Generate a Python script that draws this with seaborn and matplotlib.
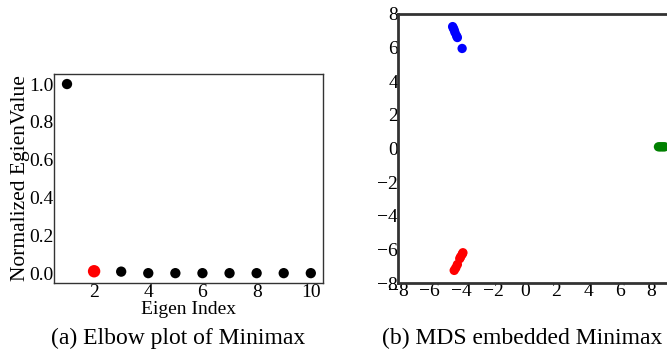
import numpy as np
import pandas as pd
import matplotlib
matplotlib.use("Agg")
import matplotlib.pyplot as plt
import seaborn as sns

# ==================== ДАННЫЕ ====================
eigen_index = [1, 2, 3, 4, 5, 6, 7, 8, 9, 10]
eigen_value = [1.0, 0.012, 0.010, 0.002, 0.002, 0.002, 0.002, 0.002, 0.002, 0.002]
eigen_color = ["black", "red", "black", "black", "black", "black", "black", "black", "black", "black"]

blue_x = [-4.55, -4.5, -4.45, -4.4, -4.3, -4.25, -3.95]
blue_y = [7.25, 7.15, 7.05, 6.9, 6.7, 6.6, 5.95]
red_x = [-3.9, -3.95, -4.05, -4.1, -4.25, -4.35, -4.45]
red_y = [-6.2, -6.3, -6.45, -6.55, -6.9, -7.1, -7.25]
green_x = [8.45, 8.55, 8.65, 8.75, 8.85]
green_y = [0.1, 0.1, 0.1, 0.1, 0.1]

# ==================== СТИЛЬ ====================
sns.set_style("white")
plt.rcParams["font.family"] = ["Liberation Serif", "DejaVu Serif"]
plt.rcParams["text.color"] = "black"
plt.rcParams["xtick.color"] = "black"
plt.rcParams["ytick.color"] = "black"
plt.rcParams["axes.labelcolor"] = "black"

fig = plt.figure(figsize=(6.67, 3.52), dpi=100)
W, H = 667, 352

def px_axes(left, top, right, bottom):
    return fig.add_axes([left / W, 1 - bottom / H, (right - left) / W, (bottom - top) / H])

# ==================== (a) Elbow ====================
ax1 = px_axes(54, 74, 323, 283)
df_e = pd.DataFrame({"idx": eigen_index, "val": eigen_value, "c": eigen_color})
sns.scatterplot(data=df_e[df_e.c == "black"], x="idx", y="val", color="black",
                s=55, edgecolor="none", ax=ax1)
sns.scatterplot(data=df_e[df_e.c == "red"], x="idx", y="val", color="red",
                s=80, edgecolor="none", ax=ax1)
ax1.set_xlim(0.52, 10.45)
ax1.set_ylim(-0.05, 1.053)
ax1.set_xticks([2, 4, 6, 8, 10])
ax1.set_yticks([0.0, 0.2, 0.4, 0.6, 0.8, 1.0])
ax1.set_yticklabels(["0.0", "0.2", "0.4", "0.6", "0.8", "1.0"])
ax1.tick_params(labelsize=14, length=0, pad=1)
ax1.tick_params(axis="y", pad=0)
ax1.set_xlabel("Eigen Index", fontsize=14, labelpad=0)
ax1.set_ylabel("Normalized EgienValue", fontsize=15.5, labelpad=0)
for sp in ax1.spines.values():
    sp.set_color("#333333")
    sp.set_linewidth(1.0)

# ==================== (b) MDS ====================
ax2 = px_axes(398, 14, 683, 283)
df_m = pd.DataFrame({
    "x": blue_x + red_x + green_x,
    "y": blue_y + red_y + green_y,
    "g": ["b"] * len(blue_x) + ["r"] * len(red_x) + ["g"] * len(green_x),
})
sns.scatterplot(data=df_m, x="x", y="y", hue="g",
                palette={"b": "blue", "r": "red", "g": "green"},
                s=45, edgecolor="none", legend=False, ax=ax2)
ax2.set_xlim(-8, 10)
ax2.set_ylim(-8, 8)
ax2.set_xticks(np.arange(-8, 10, 2))
ax2.set_yticks(np.arange(-8, 9, 2))
ax2.tick_params(labelsize=14, length=0, pad=0)
ax2.set_xlabel("")
ax2.set_ylabel("")
for sp in ax2.spines.values():
    sp.set_color("#333333")
    sp.set_linewidth(2.0)

# ==================== ПОДПИСИ ====================
fig.text(178 / W, 1 - 338 / H, "(a) Elbow plot of Minimax", fontsize=17, ha="center", va="center")
fig.text(522 / W, 1 - 338 / H, "(b) MDS embedded Minimax", fontsize=17, ha="center", va="center")

fig.savefig("out.png", dpi=100)
